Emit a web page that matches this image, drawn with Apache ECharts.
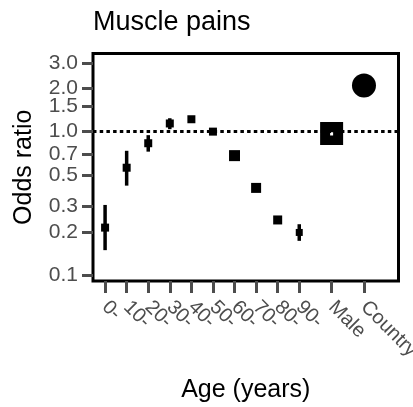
<!DOCTYPE html>
<html>
<head>
<meta charset="utf-8">
<script src="https://cdn.jsdelivr.net/npm/echarts@6/dist/echarts.min.js"></script>
<style>
  html, body { margin: 0; padding: 0; background: #fff; }
  .main { width: 413px; height: 407px; }
</style>
</head>
<body>
<div class="main"></div>
<script>
  // groups along the x axis and where they sit
  const categories = ['0-', '10-', '20-', '30-', '40-', '50-', '60-', '70-', '80-', '90-', 'Male', 'Country'];
  const positions = [0, 1, 2, 3, 4, 5, 6, 7, 8, 9, 10.5, 12];

  // odds ratios with confidence limits (null = no bar)
  const oddsRatio = [0.214, 0.56, 0.83, 1.14, 1.22, 1.0, 0.68, 0.405, 0.242, 0.198, 0.97, 2.1];
  const lower = [0.149, 0.42, 0.725, 1.04, 1.17, null, null, null, 0.23, 0.173, 0.94, null];
  const upper = [0.308, 0.735, 0.945, 1.24, 1.27, null, null, null, 0.255, 0.226, 0.99, null];
  const markerSize = [8, 8, 8, 8, 8, 8, 11, 10, 9, 7, 23, 24];

  const yTicks = [0.1, 0.2, 0.3, 0.5, 0.7, 1.0, 1.5, 2.0, 3.0];

  const font = 'Liberation Sans, Arial, sans-serif';
  const xMin = -0.56;
  // a blank first slot keeps echarts from dropping the overlapping "10-" label
  const xSlots = [xMin + 0.01].concat(positions);

  /* global echarts: true */
  let myChart = echarts.init(document.querySelector('.main'), null, { renderer: 'canvas' });

  let pointData = positions.map((x, i) => ({
    value: [x, Math.log10(oddsRatio[i])],
    symbol: categories[i] === 'Country' ? 'circle' : 'rect',
    symbolSize: markerSize[i]
  }));

  let barData = [];
  positions.forEach((x, i) => {
    if (lower[i] !== null) {
      barData.push({ value: [x, Math.log10(lower[i]), Math.log10(upper[i])], cat: categories[i] });
    }
  });

  let option = {
    animation: false,
    title: {
      text: 'Muscle pains',
      left: 88,
      top: 4,
      textStyle: { fontFamily: font, fontSize: 27, fontWeight: 'normal', color: '#000' }
    },
    grid: {
      left: 93,
      top: 53.5,
      right: 14.5,
      bottom: 126,
      outerBoundsMode: 'none',
      show: true,
      borderColor: '#000',
      borderWidth: 3,
      backgroundColor: '#fff'
    },
    xAxis: {
      type: 'value',
      min: xMin,
      max: 13.6,
      name: 'Age (years)',
      nameLocation: 'middle',
      nameGap: 97,
      nameMoveOverlap: false,
      nameTextStyle: { fontFamily: font, fontSize: 25, color: '#000' },
      axisLine: { show: false, onZero: false },
      splitLine: { show: false },
      axisTick: {
        show: true,
        length: 12,
        customValues: xSlots,
        lineStyle: { color: '#4d4d4d', width: 3 }
      },
      axisLabel: {
        customValues: xSlots,
        showMinLabel: false,
        showMaxLabel: true,
        hideOverlap: false,
        rotate: -45,
        margin: 23,
        fontFamily: font,
        fontSize: 20,
        color: '#4d4d4d',
        formatter: v => {
          let i = positions.findIndex(p => Math.abs(p - v) < 1e-6);
          return i >= 0 ? categories[i] : '';
        }
      }
    },
    yAxis: {
      type: 'value',
      min: -1.042,
      max: 0.545,
      name: 'Odds ratio',
      nameLocation: 'middle',
      nameGap: 56,
      nameRotate: 90,
      nameMoveOverlap: false,
      nameTextStyle: { fontFamily: font, fontSize: 25, color: '#000' },
      axisLine: { show: false, onZero: false },
      splitLine: { show: false },
      axisTick: {
        show: true,
        length: 11,
        customValues: yTicks.map(v => Math.log10(v)),
        lineStyle: { color: '#4d4d4d', width: 3 }
      },
      axisLabel: {
        customValues: yTicks.map(v => Math.log10(v)),
        showMinLabel: true,
        showMaxLabel: true,
        hideOverlap: false,
        margin: 15,
        fontFamily: font,
        fontSize: 21,
        color: '#4d4d4d',
        formatter: v => Math.pow(10, v).toFixed(1)
      }
    },
    series: [{
      name: 'Odds ratio',
      type: 'scatter',
      z: 2,
      itemStyle: { color: '#000', opacity: 1 },
      data: pointData,
      markLine: {
        silent: true,
        symbol: 'none',
        label: { show: false },
        lineStyle: { color: '#000', type: [3.5, 3.2], width: 3 },
        data: [{ yAxis: 0 }]
      }
    }, {
      name: 'CI',
      type: 'custom',
      z: 3,
      data: barData,
      renderItem: (params, api) => {
        let lo = api.coord([api.value(0), api.value(1)]);
        let hi = api.coord([api.value(0), api.value(2)]);
        let isMale = barData[params.dataIndex].cat === 'Male';
        return {
          type: 'line',
          shape: { x1: lo[0], y1: lo[1], x2: hi[0], y2: hi[1] },
          style: { stroke: isMale ? '#fff' : '#000', lineWidth: isMale ? 3 : 3.5 }
        };
      }
    }]
  };

  myChart.setOption(option);
</script>
</body>
</html>
